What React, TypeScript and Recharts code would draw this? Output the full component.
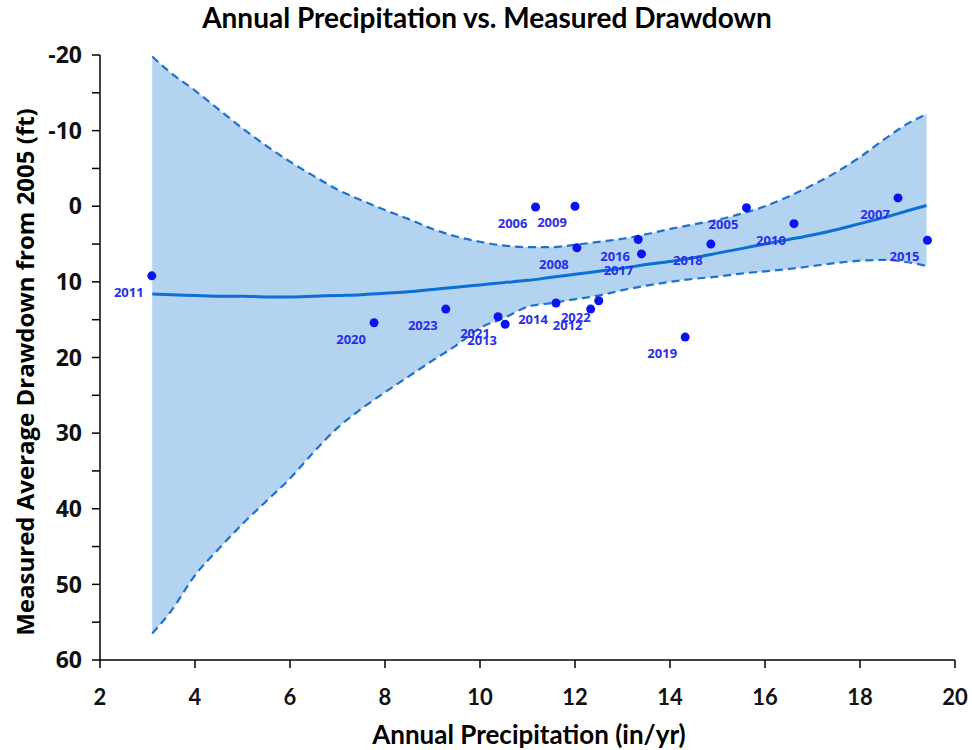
import React from 'react'
import {
  Area,
  ComposedChart,
  Line,
  Scatter,
  XAxis,
  YAxis,
} from 'recharts'

// band / fit curve at these x positions
const bandX = [
  3.1, 3.5, 4, 4.5, 5, 5.5, 6, 6.5, 7, 7.5, 8, 8.5, 9, 9.5, 10, 10.5, 11, 11.5,
  12, 12.5, 13, 13.5, 14, 14.5, 15, 15.5, 16, 16.5, 17, 17.5, 18, 18.5, 19, 19.4,
]
const bandUpper = [
  -19.8, -17.6, -15.3, -12.8, -10.3, -8.0, -5.9, -4.0, -2.2, -0.8, 0.5, 1.7, 3.0,
  4.0, 4.7, 5.2, 5.4, 5.4, 5.1, 4.7, 4.3, 3.7, 3.0, 2.4, 1.8, 1.0, 0.0, -1.3,
  -2.8, -4.5, -6.5, -8.8, -10.9, -12.2,
]
const bandLower = [
  56.5, 53.5, 48.8, 45.3, 42.0, 39.0, 36.0, 32.5, 29.3, 26.8, 24.6, 22.5, 20.4,
  18.4, 16.1, 14.8, 13.3, 12.8, 12.3, 11.8, 11.1, 10.5, 10.0, 9.6, 9.3, 8.9, 8.6,
  8.3, 7.9, 7.5, 7.2, 7.1, 7.4, 7.9,
]
const fitValues = [
  11.6, 11.7, 11.8, 11.9, 11.9, 12.0, 12.0, 11.9, 11.8, 11.7, 11.5, 11.3, 11.0,
  10.7, 10.4, 10.1, 9.8, 9.4, 9.0, 8.6, 8.2, 7.7, 7.3, 6.8, 6.2, 5.6, 5.0, 4.4,
  3.8, 3.1, 2.3, 1.5, 0.6, -0.1,
]

// measured points
const years = [
  2005, 2006, 2007, 2008, 2009, 2010, 2011, 2012, 2013, 2014, 2015, 2016, 2017,
  2018, 2019, 2020, 2021, 2022, 2023,
]
const precip = [
  15.61, 11.17, 18.8, 12.04, 12.0, 16.61, 3.09, 12.33, 10.53, 11.6, 19.42, 13.33,
  13.4, 14.86, 14.32, 7.77, 10.38, 12.5, 9.28,
]
const drawdown = [
  0.2, 0.1, -1.1, 5.5, 0.0, 2.3, 9.2, 13.6, 15.6, 12.8, 4.5, 4.4, 6.3, 5.0, 17.3,
  15.4, 14.6, 12.5, 13.6,
]

const xTicks = [2, 4, 6, 8, 10, 12, 14, 16, 18, 20]
const yTicks = [-20, -15, -10, -5, 0, 5, 10, 15, 20, 25, 30, 35, 40, 45, 50, 55, 60]

const bandData = bandX.map((x, i) => ({
  x,
  range: [bandUpper[i], bandLower[i]],
  upper: bandUpper[i],
  lower: bandLower[i],
  fit: fitValues[i],
}))

const points = years.map((year, i) => ({ year, x: precip[i], y: drawdown[i] }))

const PointShape = (props: any) => {
  const { cx, cy, payload } = props
  if (cx == null || cy == null) return null
  return (
    <g>
      <circle cx={cx} cy={cy} r={4.5} fill="#0a14ee" />
      <text
        x={cx - 23}
        y={cy + 16}
        textAnchor="middle"
        dominantBaseline="central"
        fontFamily="Open Sans"
        fontWeight="bold"
        fontSize={13}
        fill="#2a2ee8"
      >
        {payload.year}
      </text>
    </g>
  )
}

const App = () => {
  return (
    <div
      style={{
        position: 'absolute',
        left: 0,
        top: 0,
        width: 972,
        height: 750,
        background: '#fff',
      }}
    >
      <div
        style={{
          position: 'absolute',
          left: 0,
          top: 0,
          width: 974,
          textAlign: 'center',
          fontFamily: 'Lato',
          fontWeight: 'bold',
          fontSize: 28,
          lineHeight: '34px',
        }}
      >
        Annual Precipitation vs. Measured Drawdown
      </div>
      <ComposedChart
        width={972}
        height={750}
        data={bandData}
        margin={{ top: 55, right: 17, bottom: 50, left: 40 }}
      >
        <XAxis
          dataKey="x"
          type="number"
          domain={[2, 20]}
          ticks={xTicks}
          allowDataOverflow
          height={40}
          tickSize={8}
          tickMargin={21}
          axisLine={{ stroke: '#000', strokeWidth: 1.5 }}
          tickLine={{ stroke: '#000', strokeWidth: 1.5 }}
          tick={{
            fill: '#111',
            fontFamily: 'Lato',
            fontWeight: 'bold',
            fontSize: 22,
          }}
        />
        <YAxis
          type="number"
          reversed
          domain={[-20, 60]}
          ticks={yTicks}
          allowDataOverflow
          width={60}
          tickSize={8}
          tickMargin={10}
          tickFormatter={(v: number) => (v % 10 === 0 ? String(v) : '')}
          axisLine={{ stroke: '#000', strokeWidth: 1.5 }}
          tickLine={{ stroke: '#000', strokeWidth: 1.5 }}
          tick={{
            fill: '#111',
            fontFamily: 'Open Sans',
            fontWeight: 'bold',
            fontSize: 23,
          }}
        />
        <Area
          dataKey="range"
          type="monotone"
          fill="#b4d3f0"
          fillOpacity={1}
          stroke="none"
          isAnimationActive={false}
        />
        <Line
          dataKey="upper"
          type="monotone"
          stroke="#1d72cf"
          strokeWidth={2.2}
          strokeDasharray="8 5"
          dot={false}
          isAnimationActive={false}
        />
        <Line
          dataKey="lower"
          type="monotone"
          stroke="#1d72cf"
          strokeWidth={2.2}
          strokeDasharray="8 5"
          dot={false}
          isAnimationActive={false}
        />
        <Line
          dataKey="fit"
          type="monotone"
          stroke="#0b6fd3"
          strokeWidth={3}
          dot={false}
          isAnimationActive={false}
        />
        <Scatter
          data={points}
          dataKey="y"
          shape={PointShape}
          isAnimationActive={false}
        />
      </ComposedChart>
      <div
        style={{
          position: 'absolute',
          left: 529,
          top: 734,
          transform: 'translate(-50%, -50%)',
          whiteSpace: 'nowrap',
          fontFamily: 'Lato',
          fontWeight: 'bold',
          fontSize: 26,
        }}
      >
        Annual Precipitation (in/yr)
      </div>
      <div
        style={{
          position: 'absolute',
          left: 24,
          top: 372,
          transform: 'translate(-50%, -50%) rotate(-90deg)',
          whiteSpace: 'nowrap',
          fontFamily: 'Open Sans',
          fontWeight: 'bold',
          fontSize: 24,
        }}
      >
        Measured Average Drawdown from 2005 (ft)
      </div>
    </div>
  )
}

export default App
